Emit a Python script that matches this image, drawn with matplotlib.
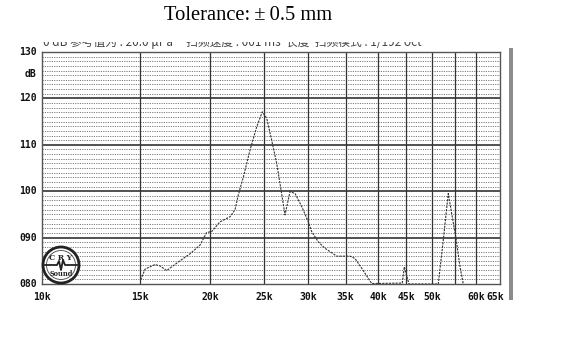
import matplotlib
matplotlib.use("Agg")
import matplotlib.pyplot as plt
from matplotlib.patches import Ellipse, Rectangle
from matplotlib.transforms import Bbox, TransformedBbox

# Measured response (frequency in kHz, level in dB)
freq_khz = [15.03, 15.30, 15.94, 16.27, 16.73, 17.67, 18.42, 19.20, 19.73, 20.14,
            20.85, 21.73, 22.18, 22.48, 22.95, 23.60, 24.26, 24.82, 25.28, 25.80,
            26.34, 26.70, 27.26, 27.83, 28.41, 29.21, 30.01, 30.43, 31.27, 32.15,
            33.75, 35.65, 36.39, 37.41, 38.45, 38.99, 44.23, 44.60, 45.47, 51.31,
            52.39, 53.47, 55.21, 56.13, 56.89]
level_db = [80.9, 83.2, 84.2, 83.9, 82.9, 85.0, 86.5, 88.4, 91.1, 91.3,
            93.4, 94.5, 96.0, 99.2, 103.0, 108.9, 113.9, 117.1, 115.7, 111.0,
            106.0, 101.7, 94.9, 99.9, 99.5, 96.7, 93.4, 91.3, 89.1, 87.7,
            86.0, 86.0, 85.5, 83.4, 81.2, 80.1, 80.2, 83.7, 80.0, 80.0,
            89.5, 99.5, 89.8, 83.7, 80.0]

x_ticks_khz = [10, 15, 20, 25, 30, 35, 40, 45, 50, 60, 65]
x_tick_labels = ["10k", "15k", "20k", "25k", "30k", "35k", "40k", "45k", "50k", "60k", "65k"]
x_grid_khz = [15, 20, 25, 30, 35, 40, 45, 50, 55, 60]
y_ticks = [80, 90, 100, 110, 120, 130]
y_tick_labels = ["080", "090", "100", "110", "120", "130"]

title_text = "Tolerance:\u2009\u00b1\u20090.5 mm"
header_text = ("0 dB \u53c2\u8003\u503c\u4e3a : 20.0 \u03bcPa     \u626b\u9891\u901f\u5ea6 : 001 ms  "
               "\u957f\u5ea6  \u626b\u9891\u6a21\u5f0f : 1/192 oct")

W, H = 567, 350
fig = plt.figure(figsize=(W / 100, H / 100), dpi=100)
fig.patch.set_facecolor("white")

left, right, top, bottom = 42, 500, 52, 284
ax = fig.add_axes([left / W, 1 - bottom / H, (right - left) / W, (bottom - top) / H])
ax.set_xscale("log")
ax.set_xlim(10000, 66200)
ax.set_ylim(80, 130)
ax.set_facecolor("white")
ax.minorticks_off()
ax.set_xticks([])
ax.set_yticks([])

# minor 1 dB dotted grid
for v in range(81, 130):
    if v % 10 == 0:
        continue
    ax.axhline(v, color="#7a7a7a", lw=0.7, ls=(0, (1.2, 1.2)), zorder=1)
# major horizontal grid
for v in [90, 100, 110, 120]:
    ax.axhline(v, color="#333333", lw=1.2, zorder=2)
# vertical grid
for k in x_grid_khz:
    ax.axvline(k * 1000, color="#333333", lw=0.9, zorder=2)

for s in ax.spines.values():
    s.set_color("#555555")
    s.set_linewidth(1.0)

# response curve
ax.plot([f * 1000 for f in freq_khz], level_db, color="#333333", lw=0.8,
        ls=(0, (2, 1)), zorder=3, clip_on=True)

mono = dict(family="DejaVu Sans Mono", fontweight="bold", fontsize=7, color="#111111")
for v, lab in zip(y_ticks, y_tick_labels):
    ax.text(-0.012, v, lab, transform=ax.get_yaxis_transform(), ha="right", va="center", **mono)
ax.text(-0.012, 125.2, "dB", transform=ax.get_yaxis_transform(), ha="right", va="center", **mono)
for k, lab in zip(x_ticks_khz, x_tick_labels):
    ax.text(k * 1000, -0.055, lab, transform=ax.get_xaxis_transform(), ha="center", va="center", **mono)

# header line above the grid, only its lower edge showing
hdr = fig.text(43 / W, 1 - 46 / H, header_text, ha="left", va="baseline", fontsize=8.5,
               color="#444444", family=["Noto Sans CJK SC", "DejaVu Sans"])
clip = TransformedBbox(Bbox([[0, 1 - 51 / H], [1, 1 - 41.5 / H]]), fig.transFigure)
hdr.set_clip_box(clip)
hdr.set_clip_on(True)

# side bar
fig.patches.append(Rectangle((509 / W, 1 - 300 / H), 3.5 / W, 252 / H, transform=fig.transFigure,
                             facecolor="#8c8c8c", edgecolor="none"))

# logo
lx, ly = 61 / W, 1 - 265 / H
fig.patches.append(Ellipse((lx, ly), 36 / W, 36 / H, transform=fig.transFigure,
                           facecolor="white", edgecolor="#222222", lw=2.0, zorder=5))
fig.patches.append(Ellipse((lx, ly), 29 / W, 29 / H, transform=fig.transFigure,
                           facecolor="none", edgecolor="#444444", lw=0.6, zorder=5))
fig.text(lx, ly + 7.5 / H, "C R Y", ha="center", va="center", fontsize=5.5, fontweight="bold",
         family="DejaVu Serif", color="#222222", zorder=6)
fig.text(lx, ly - 8.5 / H, "Sound", ha="center", va="center", fontsize=4.8, fontweight="bold",
         family="DejaVu Serif", color="#222222", zorder=6)
fig.lines.append(plt.Line2D([(lx * W - 16) / W, (lx * W - 4) / W, (lx * W - 2) / W, lx, (lx * W + 2) / W,
                             (lx * W + 4) / W, (lx * W + 16) / W],
                            [ly, ly, ly + 4 / H, ly - 5 / H, ly + 5 / H, ly, ly],
                            transform=fig.transFigure, color="#222222", lw=1.3, zorder=6))

fig.text(248 / W, 1 - 15 / H, title_text, ha="center", va="center", fontsize=14.8,
         family="Liberation Serif", color="black")

fig.savefig("out.png", dpi=100)
